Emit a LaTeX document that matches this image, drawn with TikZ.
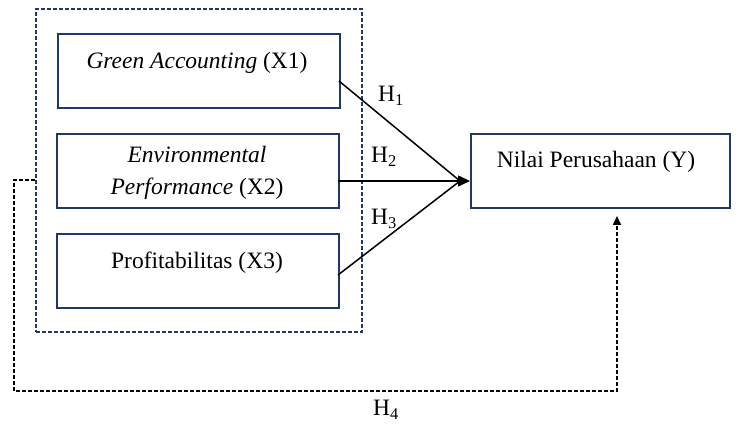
\documentclass[tikz,border=0pt]{standalone}
\usepackage{fontspec}
\setmainfont{Liberation Serif}
\usetikzlibrary{arrows.meta}
\definecolor{navy}{HTML}{1F3864}
\begin{document}
\begin{tikzpicture}[x=1pt,y=-1pt,
  every node/.style={font=\fontsize{23.5}{28}\selectfont},
  varbox/.style={draw=navy,line width=2pt,minimum width=282pt,minimum height=74pt,inner sep=0pt,anchor=north west},
  grp/.style={draw=navy,line width=1.6pt,dash pattern=on 4pt off 2pt},
  fb/.style={draw=black,line width=1.6pt,dash pattern=on 4pt off 2pt},
  link/.style={draw=black,line width=1.5pt},
  lbl/.style={inner sep=0pt}]
\useasboundingbox (0,0) rectangle (739,430);
\node[grp,minimum width=326pt,minimum height=323pt,anchor=north west,inner sep=0pt] (grp) at (35,8) {};
\node[varbox] (x1) at (57,33) {};
\node[varbox] (x2) at (56,133) {};
\node[varbox] (x3) at (56,233) {};
\node[varbox,minimum width=259pt] (y) at (470,133) {};
\node[lbl] (t1) at (197,63) {\textit{Green Accounting} (X1)};
\node[lbl,align=center] (t2) at (197,173) {\textit{Environmental}\\[4pt]\textit{Performance} (X2)};
\node[lbl] (t3) at (197,263) {Profitabilitas (X3)};
\node[lbl] (ty) at (596,162) {Nilai Perusahaan (Y)};
\coordinate (tip) at (470,181);
\coordinate (mid) at (460,181);
\draw[link] (339,81) -- (mid);
\draw[link] (338,275) -- (mid);
\draw[link,-{Triangle[length=12pt,width=11pt]}] (338,181) -- (tip);
\node[lbl] (h1) at (391,96) {H\textsubscript{1}};
\node[lbl] (h2) at (384,157) {H\textsubscript{2}};
\node[lbl] (h3) at (384,219) {H\textsubscript{3}};
\node[lbl] (h4) at (386,410) {H\textsubscript{4}};
\coordinate (ytarget) at (617,216);
\draw[fb,-{Triangle[length=9pt,width=8pt]}] (grp.west |- 0,180) -- (14,180) -- (14,391) -- (617,391) -- (ytarget);
\end{tikzpicture}
\end{document}
